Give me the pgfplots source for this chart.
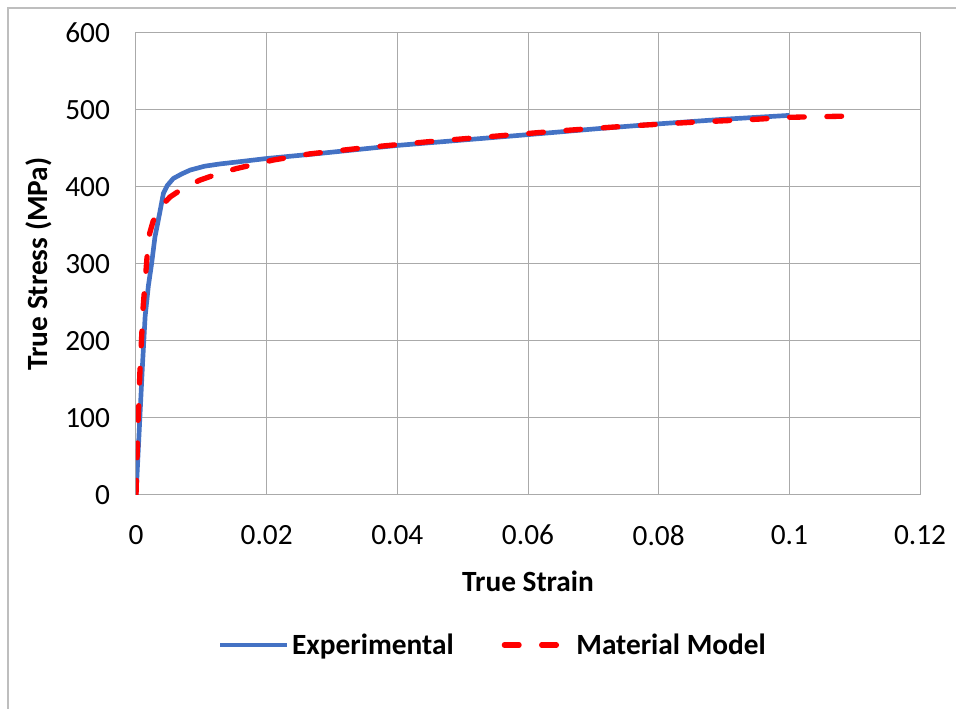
\documentclass[border=0pt]{standalone}
\usepackage{fontspec}
\setmainfont{Carlito}
\usepackage{pgfplots}
\pgfplotsset{compat=1.18}

\definecolor{expblue}{RGB}{68,114,196}
\definecolor{gridgray}{RGB}{170,170,170}
\definecolor{framegray}{RGB}{190,190,190}

\begin{document}
\begin{tikzpicture}[x=0.75pt,y=0.75pt]
% page = 956 x 709 px, axis lower-left at px (136,495)
\useasboundingbox (-136,-214) rectangle (820,495);
\draw[framegray,line width=1.5pt] (-128,-214) -- (-128,487) -- (820,487);
\begin{axis}[
    at={(0,0)}, anchor=south west,
    scale only axis,
    width=588pt, height=346.5pt,
    xmin=0, xmax=0.12, ymin=0, ymax=600,
    xtick={0,0.02,...,0.12},
    ytick={0,100,...,600},
    xticklabels={0,0.02,0.04,0.06,0.08,0.1,0.12},
    grid=major,
    major grid style={gridgray, line width=0.75pt},
    axis line style={gridgray, line width=0.75pt},
    tick style={draw=none},
    font=\fontsize{22}{26}\selectfont,
    /pgf/number format/assume math mode=true,
    y tick label style={xshift=-16pt},
    x tick label style={yshift=-19pt},
    xlabel={\textbf{True Strain}},
    ylabel={\textbf{True Stress (MPa)}},
    xlabel style={yshift=-12pt},
    ylabel style={yshift=3pt},
    legend style={
        at={(268pt,-112.5pt)}, anchor=center,
        draw=none, legend columns=2,
        /tikz/every even column/.append style={column sep=34pt},
        font=\fontsize{22}{26}\selectfont\bfseries,
    },
    legend image code/.code={
        \draw[#1] (0pt,0pt) -- (50pt,0pt);
    },
]
\addplot[expblue, line width=3.5pt, line join=round] coordinates {
    (0,0) (0.0003,50) (0.0006,102) (0.001,170) (0.0014,232)
    (0.0019,272) (0.0024,301) (0.0029,335) (0.0036,365) (0.0042,392)
    (0.0048,402) (0.0057,411) (0.0070,417) (0.0083,422) (0.0105,427)
    (0.0129,430) (0.016,433) (0.02,437) (0.028,443.5) (0.04,454)
    (0.05,461) (0.06,468) (0.071,476) (0.08,482) (0.09,488) (0.1,493)
};
\addlegendentry{Experimental}
\addplot[red, line width=4pt, line cap=round, dash pattern=on 11pt off 17pt] coordinates {
    (0,0) (0.0002,60) (0.00035,102) (0.0006,160) (0.00087,206)
    (0.0011,245) (0.00138,275) (0.0017,310) (0.0021,340) (0.0026,355)
    (0.0032,366) (0.0041,377) (0.0052,387) (0.0075,400) (0.0098,409)
    (0.0125,417) (0.0154,424) (0.021,435) (0.0266,443) (0.035,451)
    (0.045,459) (0.055,466) (0.065,473) (0.075,479) (0.085,484)
    (0.095,488) (0.1,490.5) (0.1085,492)
};
\addlegendentry{Material Model}
\end{axis}
\end{tikzpicture}
\end{document}
